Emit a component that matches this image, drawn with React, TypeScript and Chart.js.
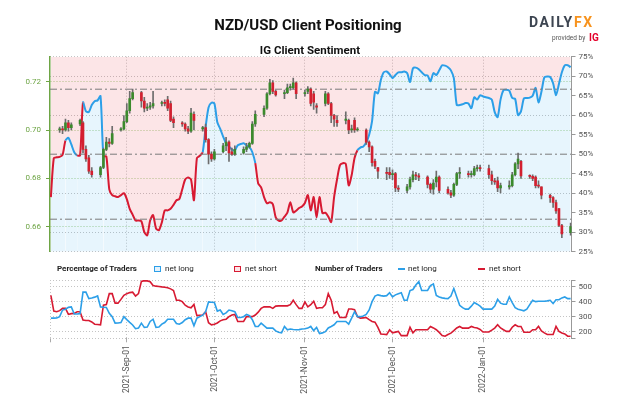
import React, { useEffect, useRef } from 'react';
import { Chart, registerables } from 'chart.js';
Chart.register(...registerables);

// ---- axis / tick data ----
const monthTickDays = [26, 56, 87, 117, 148]; // day offsets from 2021-08-06
const monthTickLabels = ['2021-Sep-01', '2021-Oct-01', '2021-Nov-01', '2021-Dec-01', '2022-Jan-01'];
const priceTicks = [0.66, 0.68, 0.7, 0.72];
const pctTicks = [25, 30, 35, 40, 45, 50, 55, 60, 65, 70, 75];
const pctGridValues = [25, 30, 40, 60, 70, 75];
const sentimentRefLines = [100 / 3, 50, 200 / 3];
const countTicks = [200, 300, 400, 500];

// ---- candles (NZD/USD daily) ----
const candleDays = [3,4,5,6,7,10,11,12,13,14,17,18,19,20,21,24,25,26,27,28,31,32,33,34,35,38,39,40,41,42,45,46,47,48,49,52,53,54,55,56,59,60,61,62,63,66,67,68,69,70,73,74,75,76,77,80,81,82,83,84,87,88,89,90,91,94,95,96,97,98,101,102,103,104,105,108,109,110,111,112,115,116,117,118,119,122,123,124,125,126,129,130,131,132,133,136,137,138,139,140,143,144,145,146,147,150,151,152,153,154,157,158,159,160,161,164,165,166,167,168,171,172,173,174,175,178];
const candleOpen = [.7000,.7005,.7000,.7030,.7010,.7025,.7030,.6920,.6885,.6830,.6815,.6845,.6920,.6950,.6945,.7000,.7005,.7035,.7080,.7130,.7155,.7120,.7090,.7095,.7100,.7110,.7115,.7125,.7110,.7045,.7030,.7025,.7005,.6995,.7065,.7005,.7010,.6960,.6900,.6880,.6910,.6935,.6950,.6910,.6900,.6905,.6920,.6930,.6945,.7025,.7065,.7090,.7150,.7195,.7160,.7150,.7155,.7175,.7175,.7195,.7150,.7160,.7170,.7150,.7100,.7110,.7150,.7110,.7060,.7040,.7040,.7040,.7000,.7040,.7000,.7000,.6950,.6930,.6870,.6845,.6825,.6825,.6815,.6820,.6760,.6750,.6765,.6795,.6815,.6810,.6805,.6775,.6755,.6785,.6805,.6755,.6740,.6730,.6775,.6820,.6820,.6815,.6815,.6840,.6845,.6840,.6815,.6790,.6790,.6760,.6765,.6770,.6815,.6860,.6870,.6810,.6808,.6805,.6770,.6765,.6730,.6720,.6700,.6675,.6605,.6575];
const candleHigh = [.7012,.7015,.7045,.7040,.7030,.7045,.7035,.6935,.6895,.6845,.6850,.6925,.6970,.6965,.7015,.7010,.7060,.7110,.7160,.7170,.7160,.7135,.7110,.7115,.7160,.7120,.7125,.7140,.7120,.7055,.7035,.7030,.7015,.7090,.7075,.7015,.7025,.6965,.6910,.6920,.6945,.6970,.6955,.6925,.6935,.6930,.6945,.6950,.7035,.7080,.7100,.7155,.7210,.7205,.7165,.7165,.7190,.7190,.7215,.7200,.7165,.7180,.7175,.7160,.7110,.7160,.7155,.7115,.7065,.7060,.7075,.7045,.7020,.7050,.7010,.7005,.6955,.6935,.6880,.6845,.6845,.6845,.6835,.6825,.6770,.6775,.6805,.6830,.6825,.6820,.6810,.6780,.6795,.6830,.6810,.6765,.6750,.6780,.6825,.6845,.6830,.6830,.6850,.6855,.6855,.6855,.6830,.6800,.6805,.6780,.6790,.6825,.6865,.6905,.6875,.6815,.6815,.6810,.6790,.6765,.6735,.6725,.6710,.6675,.6610,.6615];
const candleLow = [.6990,.6985,.6995,.6995,.7000,.7018,.6905,.6870,.6820,.6805,.6805,.6840,.6915,.6930,.6940,.6995,.7000,.7030,.7070,.7125,.7095,.7075,.7080,.7085,.7090,.7100,.7100,.7080,.7035,.7010,.7015,.6995,.6985,.6990,.7000,.6995,.6950,.6860,.6870,.6875,.6905,.6915,.6870,.6895,.6895,.6900,.6910,.6925,.6940,.7015,.7055,.7085,.7145,.7150,.7140,.7130,.7150,.7165,.7170,.7130,.7140,.7150,.7100,.7085,.7070,.7100,.7105,.7030,.7015,.7015,.7025,.6985,.6990,.6990,.6995,.6940,.6910,.6850,.6840,.6800,.6795,.6800,.6795,.6745,.6745,.6740,.6755,.6785,.6795,.6790,.6760,.6740,.6735,.6765,.6740,.6735,.6720,.6725,.6770,.6800,.6805,.6805,.6810,.6830,.6830,.6800,.6775,.6775,.6745,.6740,.6755,.6765,.6810,.6840,.6800,.6800,.6790,.6760,.6760,.6715,.6700,.6680,.6655,.6600,.6555,.6565];
const candleClose = [.7005,.7000,.7030,.7010,.7022,.7040,.6920,.6880,.6830,.6815,.6845,.6920,.6950,.6945,.6985,.7005,.7035,.7080,.7130,.7155,.7120,.7090,.7095,.7100,.7110,.7112,.7110,.7090,.7040,.7030,.7025,.7005,.6995,.7070,.7040,.7010,.6960,.6900,.6880,.6910,.6935,.6950,.6905,.6900,.6920,.6920,.6930,.6945,.7025,.7065,.7090,.7150,.7195,.7160,.7145,.7155,.7175,.7180,.7195,.7150,.7155,.7170,.7110,.7115,.7095,.7150,.7110,.7060,.7045,.7030,.7045,.7000,.7005,.7000,.7002,.6950,.6930,.6865,.6850,.6830,.6820,.6815,.6820,.6760,.6755,.6765,.6795,.6815,.6810,.6805,.6775,.6755,.6780,.6805,.6750,.6740,.6730,.6775,.6820,.6825,.6815,.6820,.6840,.6845,.6840,.6815,.6790,.6785,.6760,.6770,.6770,.6815,.6860,.6880,.6810,.6808,.6800,.6770,.6768,.6730,.6720,.6700,.6665,.6605,.6570,.6600];

// ---- IG client sentiment: % of traders net long, one value per day from 2021-08-06 ----
const netLongPct = [
  39, 49.0, 49.2, 49.3, 49.8, 53.5, 54.2, 52.5, 50.5, 49.7,
  49.7, 63.3, 61, 60.8, 62.6, 63.6, 63.8, 64.9, 49.5, 49.4,
  41, 39.5, 39.2, 39, 39.5, 40, 38.5, 36, 34.5, 33,
  33, 32.8, 30, 29.2, 33, 34.4, 31, 30.5, 32.5, 35.6,
  35.6, 36, 37, 38.2, 38.5, 41, 43.5, 44, 43.5, 38.2,
  49, 49.6, 50.5, 57, 62, 63.2, 63, 58.2, 56.5, 54.5,
  52.8, 52, 51.2, 51, 52.3, 52.6, 52.8, 52.3, 51.8, 50.5,
  47.7, 42.5, 41.5, 39, 37.4, 37.7, 37.2, 33.8, 33, 33,
  34, 35, 37.7, 35.1, 35.5, 36.2, 36.6, 37.5, 39.5, 35.6,
  39, 33.8, 39, 34.9, 35, 34, 32.6, 39, 43.5, 47.2,
  47.7, 47.5, 42, 44.6, 49, 51, 51.7, 52, 53, 55,
  58.5, 66, 65.6, 69, 71, 71.2, 70.5, 69.5, 70.3, 71,
  71, 71.2, 70.8, 68.5, 72, 72.2, 71.8, 71, 70.3, 70.2,
  68.7, 70.8, 70.3, 71.5, 72.8, 72.7, 72.3, 71.5, 69.5, 62.6,
  62.6, 62.8, 63.1, 63, 61.8, 64.6, 64, 65.1, 64.8, 64.6,
  64.4, 64, 60.8, 59.5, 64, 66.4, 66.5, 66.3, 64.4, 64.2,
  60, 61, 64.3, 64.4, 64.5, 65, 67, 63.3, 66, 69.7,
  69.9, 69.8, 68.2, 65.1, 68, 71, 72.8, 72.8, 72.3
];

// ---- number of traders ----
const netLongCount = [
  290, 290, 291, 300, 344, 350, 362, 365, 318, 318,
  320, 463, 463, 420, 424, 430, 438, 365, 363, 361,
  322, 300, 257, 258, 261, 300, 280, 262, 245, 220,
  224, 257, 229, 231, 268, 283, 229, 231, 250, 261,
  283, 283, 283, 255, 250, 261, 280, 290, 290, 239,
  290, 300, 310, 333, 398, 396, 394, 337, 344, 315,
  325, 344, 340, 333, 294, 294, 300, 315, 307, 280,
  235, 235, 257, 240, 224, 224, 224, 205, 196, 192,
  235, 213, 218, 215, 213, 214, 218, 220, 224, 235,
  207, 229, 188, 192, 200, 225, 235, 246, 268, 268,
  268, 268, 250, 290, 333, 300, 300, 305, 315, 345,
  400, 437, 445, 440, 437, 440, 459, 431, 445, 453,
  459, 409, 409, 474, 481, 511, 533, 474, 474, 474,
  507, 518, 441, 431, 425, 422, 420, 437, 487, 431,
  376, 360, 350, 350, 370, 394, 383, 370, 350, 350,
  350, 350, 370, 415, 390, 383, 383, 431, 394, 360,
  350, 345, 339, 350, 380, 409, 400, 403, 403, 403,
  405, 409, 388, 413, 413, 425, 431, 420, 420
];
const netShortCount = [
  442, 337, 333, 340, 355, 355, 315, 320, 322, 333,
  333, 278, 274, 274, 265, 250, 248, 246, 376, 381,
  453, 453, 390, 390, 415, 442, 453, 460, 463, 437,
  453, 535, 540, 538, 533, 507, 503, 501, 498, 496,
  492, 485, 474, 409, 409, 400, 376, 365, 359, 381,
  307, 309, 311, 333, 260, 246, 250, 258, 272, 280,
  283, 300, 311, 315, 268, 268, 268, 300, 300, 300,
  311, 330, 355, 365, 365, 365, 355, 370, 372, 372,
  372, 372, 380, 409, 380, 355, 355, 398, 365, 380,
  403, 355, 359, 359, 380, 453, 409, 322, 333, 294,
  294, 294, 351, 351, 346, 300, 290, 292, 294, 280,
  268, 263, 229, 185, 183, 181, 213, 192, 197, 202,
  174, 174, 174, 229, 192, 213, 213, 213, 213, 213,
  235, 225, 213, 195, 175, 170, 181, 190, 207, 225,
  235, 224, 224, 224, 235, 228, 224, 215, 198, 198,
  198, 210, 224, 246, 225, 213, 202, 202, 230, 246,
  235, 235, 196, 196, 196, 213, 213, 235, 205, 192,
  181, 181, 181, 235, 202, 192, 185, 170, 170
];

// ---- styling ----
const BLUE = '#2c9fe8';
const RED = '#d71a32';
const PINK_FILL = 'rgba(230, 40, 60, 0.12)';
const BLUE_FILL = 'rgba(40, 160, 235, 0.11)';
const C_GREEN = '#3b8a2c';
const C_RED = '#d3202f';
const WICK = '#6d6d6d';
const GRID = '#c4c4c4';
const GREEN_AX = '#6ea545';
const GREEN_GRID = '#a9d18e';
const X_MIN = -0.3;
const X_MAX = 178.3;

Chart.defaults.font.family = 'Roboto, "Liberation Sans", sans-serif';

export default function App() {
  const topRef = useRef<HTMLCanvasElement | null>(null);
  const botRef = useRef<HTMLCanvasElement | null>(null);

  useEffect(() => {
    const setTicks = (vals: number[]) => (scale: any) => {
      scale.ticks = vals.map((v) => ({ value: v }));
    };
    const sentData = netLongPct.map((v, i) => ({ x: i, y: v }));

    const top = new Chart(topRef.current as HTMLCanvasElement, {
      type: 'bar',
      data: {
        datasets: [
          {
            type: 'line', data: sentData, yAxisID: 'yPct', xAxisID: 'x',
            borderWidth: 0, borderColor: 'rgba(0,0,0,0)', pointRadius: 0,
            fill: 'end', backgroundColor: PINK_FILL, tension: 0.25, order: 10,
          },
          {
            type: 'line', data: sentData, yAxisID: 'yPct', xAxisID: 'x',
            borderWidth: 2, borderColor: BLUE, pointRadius: 0,
            fill: 'start', backgroundColor: BLUE_FILL, tension: 0.25, order: 9,
            segment: { borderColor: (c: any) => (c.p0.parsed.y >= 50 ? BLUE : RED) },
          },
          ...sentimentRefLines.map((v) => ({
            type: 'line', data: [{ x: X_MIN, y: v }, { x: X_MAX, y: v }], yAxisID: 'yPct', xAxisID: 'x',
            borderColor: '#7a7a7a', borderWidth: 1, borderDash: [7, 3, 2, 3], pointRadius: 0, fill: false, order: 8,
          })),
          {
            type: 'bar', yAxisID: 'yPrice', xAxisID: 'x',
            data: candleDays.map((d, i) => ({ x: d, y: [candleLow[i], candleHigh[i]] })),
            backgroundColor: WICK, barThickness: 1, grouped: false, order: 2,
          },
          {
            type: 'bar', yAxisID: 'yPrice', xAxisID: 'x',
            data: candleDays.map((d, i) => ({ x: d, y: [candleOpen[i], candleClose[i]] })),
            backgroundColor: candleDays.map((_, i) => (candleClose[i] >= candleOpen[i] ? C_GREEN : C_RED)),
            barThickness: 2, minBarLength: 1, grouped: false, order: 1,
          },
        ] as any,
      },
      options: {
        responsive: false,
        animation: false,
        events: [],
        layout: { padding: { top: 56.7, bottom: 10.3, left: 0, right: 0 } },
        plugins: { legend: { display: false }, tooltip: { enabled: false } },
        scales: {
          x: {
            type: 'linear', min: X_MIN, max: X_MAX, offset: false,
            afterBuildTicks: setTicks(monthTickDays),
            ticks: { display: false },
            grid: { color: GRID, drawTicks: false, offset: false },
            border: { display: false, dash: [1, 2] },
            afterFit: (s: any) => { s.height = 0; },
          },
          yPrice: {
            type: 'linear', position: 'left', min: 0.64965, max: 0.73035,
            afterBuildTicks: setTicks(priceTicks),
            ticks: { autoSkip: false, color: GREEN_AX, font: { size: 8 }, padding: 5, callback: (v: any) => Number(v).toFixed(2) },
            grid: { color: GREEN_GRID, tickColor: GREEN_AX, tickLength: 4 },
            border: { color: GREEN_AX, width: 1.5, dash: [1, 2] },
            afterFit: (s: any) => { s.width = 50; },
          },
          yPct: {
            type: 'linear', position: 'right', min: 25, max: 75,
            afterBuildTicks: setTicks(pctTicks),
            ticks: { autoSkip: false, color: '#555', font: { size: 8 }, padding: 3, callback: (v: any) => v + '%' },
            grid: {
              color: (ctx: any) => (pctGridValues.includes(ctx.tick && ctx.tick.value) ? GRID : 'rgba(0,0,0,0)'),
              tickColor: '#999', tickLength: 4,
            },
            border: { color: '#999', width: 1, dash: [1, 2] },
            afterFit: (s: any) => { s.width = 52.5; },
          },
        },
      } as any,
    });

    const bottom = new Chart(botRef.current as HTMLCanvasElement, {
      type: 'line',
      data: {
        datasets: [
          {
            data: netLongCount.map((v, i) => ({ x: i, y: v })),
            borderColor: BLUE, borderWidth: 1.6, pointRadius: 0, fill: false, tension: 0,
          },
          {
            data: netShortCount.map((v, i) => ({ x: i, y: v })),
            borderColor: RED, borderWidth: 1.6, pointRadius: 0, fill: false, tension: 0,
          },
        ],
      },
      options: {
        responsive: false,
        animation: false,
        events: [],
        layout: { padding: { top: 18, left: 50, right: 0, bottom: 0 } },
        plugins: { legend: { display: false }, tooltip: { enabled: false } },
        scales: {
          x: {
            type: 'linear', min: X_MIN, max: X_MAX, offset: false,
            afterBuildTicks: setTicks([X_MIN, ...monthTickDays]),
            ticks: {
              autoSkip: false, maxRotation: 90, minRotation: 90, color: '#555', font: { size: 8.5 }, padding: 3,
              callback: (v: any) => {
                const k = monthTickDays.indexOf(Number(v));
                return k >= 0 ? monthTickLabels[k] : '';
              },
            },
            grid: { color: GRID, tickColor: '#aaa', tickLength: 4 },
            border: { display: false, dash: [1, 2] },
            afterFit: (s: any) => { s.height = 77.7; },
          },
          y: {
            type: 'linear', position: 'right', min: 156, max: 544,
            afterBuildTicks: setTicks([156, ...countTicks, 544]),
            ticks: {
              autoSkip: false, color: '#555', font: { size: 8 }, padding: 3,
              callback: (v: any) => (countTicks.includes(Number(v)) ? String(v) : ''),
            },
            grid: { color: GRID, tickColor: '#999', tickLength: 4 },
            border: { color: '#999', width: 1, dash: [1, 2] },
            afterFit: (s: any) => { s.width = 52.5; },
          },
        },
      } as any,
    });

    return () => {
      top.destroy();
      bottom.destroy();
    };
  }, []);

  const abs = (o: any) => ({ position: 'absolute', whiteSpace: 'nowrap', ...o });
  const legText = { fontSize: 8, lineHeight: '10px', color: '#222', top: 264 };

  return (
    <div style={{ position: 'fixed', left: 0, top: 0, width: 624, height: 416, background: '#fff', overflow: 'hidden', fontFamily: 'Roboto, "Liberation Sans", sans-serif' }}>
      <canvas ref={topRef} width={624} height={262} style={{ position: 'absolute', left: 0, top: 0, width: 624, height: 262 }} />
      <canvas ref={botRef} width={624} height={154} style={{ position: 'absolute', left: 0, top: 262, width: 624, height: 154 }} />

      <div style={abs({ left: 158, width: 300, top: 15, textAlign: 'center', fontSize: 15, fontWeight: 700, color: '#111', lineHeight: '20px' })}>NZD/USD Client Positioning</div>
      <div style={abs({ left: 210, width: 200, top: 43, textAlign: 'center', fontSize: 11.5, fontWeight: 700, color: '#111', lineHeight: '14px' })}>IG Client Sentiment</div>

      <div style={abs({ left: 529, top: 14, fontSize: 14, fontWeight: 700, letterSpacing: '1.6px', lineHeight: '17px', color: '#3d4551' })}>
        DAILY<span style={{ color: '#f7931e' }}>FX</span>
      </div>
      <div style={abs({ left: 552, top: 34, fontSize: 6.5, lineHeight: '8px', color: '#555' })}>provided by</div>
      <div style={abs({ left: 589, top: 32, fontSize: 10, fontWeight: 700, lineHeight: '11px', color: '#e4002b' })}>IG</div>

      <div style={abs({ ...legText, left: 57, fontWeight: 700 })}>Percentage of Traders</div>
      <div style={abs({ left: 154, top: 265.5, width: 4.5, height: 4.5, border: `1.5px solid ${BLUE}`, background: '#e4f2fc' })} />
      <div style={abs({ ...legText, left: 165 })}>net long</div>
      <div style={abs({ left: 234, top: 265.5, width: 4.5, height: 4.5, border: `1.5px solid ${RED}`, background: '#fce4e6' })} />
      <div style={abs({ ...legText, left: 245 })}>net short</div>
      <div style={abs({ ...legText, left: 315, fontWeight: 700 })}>Number of Traders</div>
      <div style={abs({ left: 398, top: 268, width: 7, height: 2, background: BLUE })} />
      <div style={abs({ ...legText, left: 408 })}>net long</div>
      <div style={abs({ left: 478, top: 268, width: 7, height: 2, background: RED })} />
      <div style={abs({ ...legText, left: 489 })}>net short</div>
    </div>
  );
}
